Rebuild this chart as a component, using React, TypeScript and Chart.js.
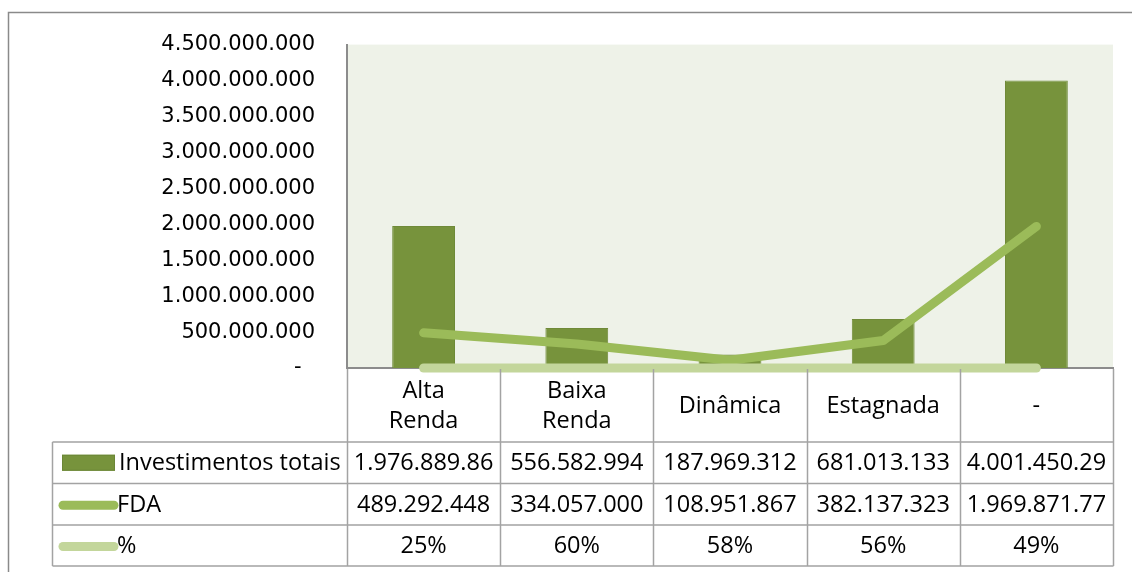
import React, { useEffect, useRef } from "react";
import { Chart, registerables } from "chart.js";

Chart.register(...registerables);

const categories: (string | string[])[] = [["Alta", "Renda"], ["Baixa", "Renda"], "Dinâmica", "Estagnada", "-"];
const investimentos = [1976889860, 556582994, 187969312, 681013133, 4001450290];
const fda = [489292448, 334057000, 108951867, 382137323, 1969871770];
const percent = [0.25, 0.6, 0.58, 0.56, 0.49];

const investimentosLabels = ["1.976.889.86", "556.582.994", "187.969.312", "681.013.133", "4.001.450.29"];
const fdaLabels = ["489.292.448", "334.057.000", "108.951.867", "382.137.323", "1.969.871.77"];
const percentLabels = ["25%", "60%", "58%", "56%", "49%"];

const seriesNames = ["Investimentos totais", "FDA", "%"];

const yMin = 0;
const yMax = 4500000000;
const yStep = 500000000;

const BAR = "#77933C";
const FDA_C = "#9BBB59";
const PCT_C = "#C3D69B";
const TABLE_FONT = '23.5px "Open Sans"';

function fmt(v: number): string {
  if (v === 0) return "-  ";
  return String(Math.round(v)).replace(/\B(?=(\d{3})+(?!\d))/g, ".");
}

const tablePlugin = {
  id: "dataTable",
  beforeDraw(chart: any) {
    const { ctx, chartArea } = chart;
    ctx.save();
    ctx.fillStyle = "#fff";
    ctx.fillRect(0, 0, chart.width, chart.height);
    ctx.fillStyle = "#EEF2E8";
    ctx.fillRect(chartArea.left, chartArea.top, chartArea.right - chartArea.left, chartArea.bottom - chartArea.top);
    // outer border
    ctx.strokeStyle = "#8a8a8a";
    ctx.lineWidth = 1.5;
    ctx.beginPath();
    ctx.moveTo(8.5, chart.height);
    ctx.lineTo(8.5, 12.5);
    ctx.lineTo(chart.width, 12.5);
    ctx.stroke();
    ctx.restore();
  },
  beforeDatasetsDraw(chart: any) {
    const { ctx, chartArea } = chart;
    ctx.save();
    ctx.strokeStyle = "#8c8c8c";
    ctx.lineWidth = 2;
    ctx.beginPath();
    ctx.moveTo(chartArea.left - 1, chartArea.bottom);
    ctx.lineTo(chartArea.right + 1, chartArea.bottom);
    ctx.stroke();
    ctx.restore();
  },
  afterDraw(chart: any) {
    const { ctx, chartArea } = chart;
    const xs = chart.scales.x;
    const n = chart.data.labels.length;
    const left = chartArea.left;
    const right = chartArea.right;
    const colW = (right - left) / n;
    const top = chartArea.bottom + 1;
    const headerBottom = 442;
    const rowLines = [headerBottom, 483.5, 525, 566];
    const legendLeft = 52.5;

    ctx.save();
    ctx.strokeStyle = "#a3a3a3";
    ctx.lineWidth = 1.5;
    ctx.beginPath();
    for (let i = 0; i <= n; i++) {
      const x = Math.round(left + i * colW) + 0.5;
      ctx.moveTo(x, top);
      ctx.lineTo(x, rowLines[rowLines.length - 1]);
    }
    ctx.moveTo(legendLeft, headerBottom);
    ctx.lineTo(legendLeft, rowLines[rowLines.length - 1]);
    for (const y of rowLines) {
      ctx.moveTo(legendLeft, y);
      ctx.lineTo(right + 0.5, y);
    }
    ctx.stroke();

    ctx.fillStyle = "#000";
    ctx.font = TABLE_FONT;
    ctx.textAlign = "center";
    ctx.textBaseline = "middle";
    const headerMid = (chartArea.bottom + headerBottom) / 2 + 1;
    chart.data.labels.forEach((lab: any, i: number) => {
      const cx = xs.getPixelForValue(i);
      const lines = Array.isArray(lab) ? lab : [lab];
      const lh = 30;
      lines.forEach((t: string, j: number) => {
        ctx.fillText(t, cx, headerMid + (j - (lines.length - 1) / 2) * lh);
      });
    });
    const rows = [investimentosLabels, fdaLabels, percentLabels];
    rows.forEach((row, r) => {
      const cy = (rowLines[r] + rowLines[r + 1]) / 2 + 1;
      row.forEach((t, i) => {
        ctx.fillText(t, xs.getPixelForValue(i), cy);
      });
    });
    const keyL = 62;
    const keyR = 115;
    rows.forEach((_, r) => {
      const cy = (rowLines[r] + rowLines[r + 1]) / 2;
      if (r === 0) {
        ctx.fillStyle = BAR;
        ctx.fillRect(keyL, cy - 8, keyR - keyL, 16);
        ctx.strokeStyle = "#6b8636";
        ctx.lineWidth = 1;
        ctx.strokeRect(keyL + 0.5, cy - 7.5, keyR - keyL - 1, 15);
      } else {
        ctx.strokeStyle = r === 1 ? FDA_C : PCT_C;
        ctx.lineWidth = 9;
        ctx.lineCap = "round";
        ctx.beginPath();
        ctx.moveTo(keyL + 1, cy + 1);
        ctx.lineTo(keyR - 1, cy + 1);
        ctx.stroke();
      }
      ctx.fillStyle = "#000";
      ctx.textAlign = "left";
      ctx.fillText(seriesNames[r], r === 0 ? 119 : 117, cy + 1);
    });
    ctx.restore();
  },
};

export default function App() {
  const ref = useRef<HTMLCanvasElement | null>(null);
  useEffect(() => {
    if (!ref.current) return;
    const chart = new Chart(ref.current, {
      type: "bar",
      data: {
        labels: categories as any,
        datasets: [
          {
            type: "bar",
            label: seriesNames[0],
            data: investimentos,
            backgroundColor: BAR,
            borderColor: "#6f8a38",
            borderWidth: 1,
            categoryPercentage: 1,
            barPercentage: 0.41,
            order: 3,
          },
          {
            type: "line",
            label: seriesNames[1],
            data: fda,
            borderColor: FDA_C,
            borderWidth: 9,
            borderCapStyle: "round",
            borderJoinStyle: "round",
            pointRadius: 0,
            tension: 0,
            clip: false,
            order: 2,
          },
          {
            type: "line",
            label: seriesNames[2],
            data: percent,
            borderColor: PCT_C,
            borderWidth: 9,
            borderCapStyle: "round",
            borderJoinStyle: "round",
            pointRadius: 0,
            tension: 0,
            clip: false,
            order: 1,
          },
        ] as any,
      },
      options: {
        animation: false,
        responsive: false,
        maintainAspectRatio: false,
        layout: { padding: { left: 0, top: 43, right: 19, bottom: 204 } },
        plugins: { legend: { display: false }, tooltip: { enabled: false } },
        scales: {
          x: { display: false, offset: true },
          y: {
            min: yMin,
            max: yMax,
            grid: { display: false, drawTicks: false },
            border: { display: true, color: "#8c8c8c", width: 2 },
            ticks: {
              stepSize: yStep,
              autoSkip: false,
              padding: 32,
              color: "#000",
              font: { family: "DejaVu Sans", size: 21 },
              callback: (v: any) => fmt(Number(v)),
            },
            afterFit: (s: any) => {
              s.width = 347;
            },
          },
        },
      },
      plugins: [tablePlugin],
    });
    return () => chart.destroy();
  }, []);
  return (
    <div style={{ position: "absolute", left: 0, top: 0, width: 1132, height: 572, background: "#fff" }}>
      <canvas ref={ref} width={1132} height={572} style={{ display: "block" }} />
    </div>
  );
}
